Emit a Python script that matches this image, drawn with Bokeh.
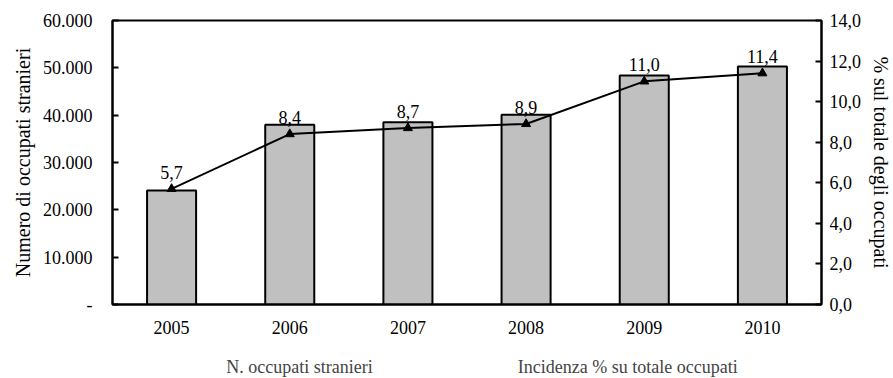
from bokeh.plotting import figure
from bokeh.layouts import column
from bokeh.models import (ColumnDataSource, FactorRange, Range1d, LinearAxis,
                          FixedTicker, Legend, LegendItem)
from bokeh.core.properties import value
from bokeh.embed import file_html
from bokeh.resources import INLINE

years = ["2005", "2006", "2007", "2008", "2009", "2010"]
occupati = [24100, 38000, 38500, 40100, 48400, 50300]
incidenza = [5.7, 8.4, 8.7, 8.9, 11.0, 11.4]
incidenza_labels = ["5,7", "8,4", "8,7", "8,9", "11,0", "11,4"]
left_ticks = [0, 10000, 20000, 30000, 40000, 50000, 60000]
left_tick_labels = ["-", "10.000", "20.000", "30.000", "40.000", "50.000", "60.000"]
right_ticks = [0, 2, 4, 6, 8, 10, 12, 14]
right_tick_labels = ["0,0", "2,0", "4,0", "6,0", "8,0", "10,0", "12,0", "14,0"]
series_names = ["N. occupati stranieri", "Incidenza % su totale occupati"]
left_title = "Numero di occupati stranieri"
right_title = "% sul totale degli occupati"

FONT = "Liberation Serif"

src = ColumnDataSource(dict(x=years, occ=occupati, pct=incidenza, lab=incidenza_labels))

p = figure(x_range=FactorRange(*years), y_range=Range1d(0, 60000),
           frame_width=709, frame_height=284,
           output_backend="svg", toolbar_location=None,
           min_border_left=112, min_border_right=72, min_border_top=20,
           min_border_bottom=40)
p.x_range.range_padding = 0
p.extra_y_ranges = {"pct": Range1d(0, 14)}
p.xgrid.grid_line_color = None
p.ygrid.grid_line_color = None
p.outline_line_color = "black"
p.outline_line_width = 2
p.background_fill_color = "white"
p.border_fill_color = "white"

p.vbar(x="x", top="occ", width=0.415, source=src,
       fill_color="#C0C0C0", line_color="black", line_width=2)
p.line(x="x", y="pct", source=src, y_range_name="pct",
       line_color="black", line_width=2)
p.scatter(x="x", y="pct", source=src, y_range_name="pct",
          marker="triangle", size=9, fill_color="black", line_color="black")
p.text(x="x", y="pct", text="lab", source=src, y_range_name="pct",
       text_font=value(FONT), text_font_size="18px", text_align="center",
       text_baseline="bottom", y_offset=-10, text_color="black")

# left axis
ya = p.yaxis[0]
ya.ticker = FixedTicker(ticks=left_ticks)
ya.major_label_overrides = {t: l for t, l in zip(left_ticks, left_tick_labels)}
ya.axis_label = left_title

ra = LinearAxis(y_range_name="pct", ticker=FixedTicker(ticks=right_ticks))
ra.major_label_overrides = {t: l for t, l in zip(right_ticks, right_tick_labels)}
ra.axis_label = right_title
p.add_layout(ra, "right")

for ax in [ya, ra, p.xaxis[0]]:
    ax.axis_line_color = "black"
    ax.axis_line_width = 2
    ax.major_tick_line_color = "black"
    ax.major_tick_line_width = 2
    ax.minor_tick_line_color = None
    ax.major_tick_in = 6
    ax.major_tick_out = 0
    ax.major_label_text_font = FONT
    ax.major_label_text_font_size = "18px"
    ax.major_label_text_color = "black"
    ax.axis_label_text_font = FONT
    ax.axis_label_text_font_size = "20px"
    ax.axis_label_text_font_style = "normal"
    ax.axis_label_text_color = "black"

p.xaxis[0].major_tick_line_color = None
p.xaxis[0].major_label_standoff = 16
ya.major_label_standoff = 20
ya.axis_label_standoff = 6
ra.major_label_standoff = 8
ra.axis_label_standoff = 6

# legend strip: a second figure with empty renderers that only provide legend swatches
empty = ColumnDataSource(dict(x=[], occ=[], pct=[]))
lf = figure(x_range=FactorRange(*years), y_range=Range1d(0, 1),
            width=893, height=34, output_backend="svg", toolbar_location=None,
            x_axis_location=None, y_axis_location=None, min_border=0)
lf.xgrid.grid_line_color = None
lf.ygrid.grid_line_color = None
lf.outline_line_color = None
lf.background_fill_color = "white"
lf.border_fill_color = "white"
lbars = lf.vbar(x="x", top="occ", width=0.415, source=empty,
                fill_color="#C0C0C0", line_color="black", line_width=2)
lline = lf.line(x="x", y="pct", source=empty, line_color="black", line_width=2)
lmarks = lf.scatter(x="x", y="pct", source=empty, marker="triangle", size=9,
                    fill_color="black", line_color="black")

legend = Legend(items=[LegendItem(label=series_names[0], renderers=[lbars]),
                       LegendItem(label=series_names[1], renderers=[lline, lmarks])],
                orientation="horizontal", location="bottom_center",
                border_line_color=None, background_fill_alpha=0,
                label_text_font=FONT, label_text_font_size="18px",
                label_height=18, glyph_width=32, glyph_height=8, spacing=112,
                label_standoff=1, margin=0, padding=2)
lf.add_layout(legend, "center")

layout = column(p, lf, spacing=0)

open("out.html", "w").write(file_html(layout, INLINE))
